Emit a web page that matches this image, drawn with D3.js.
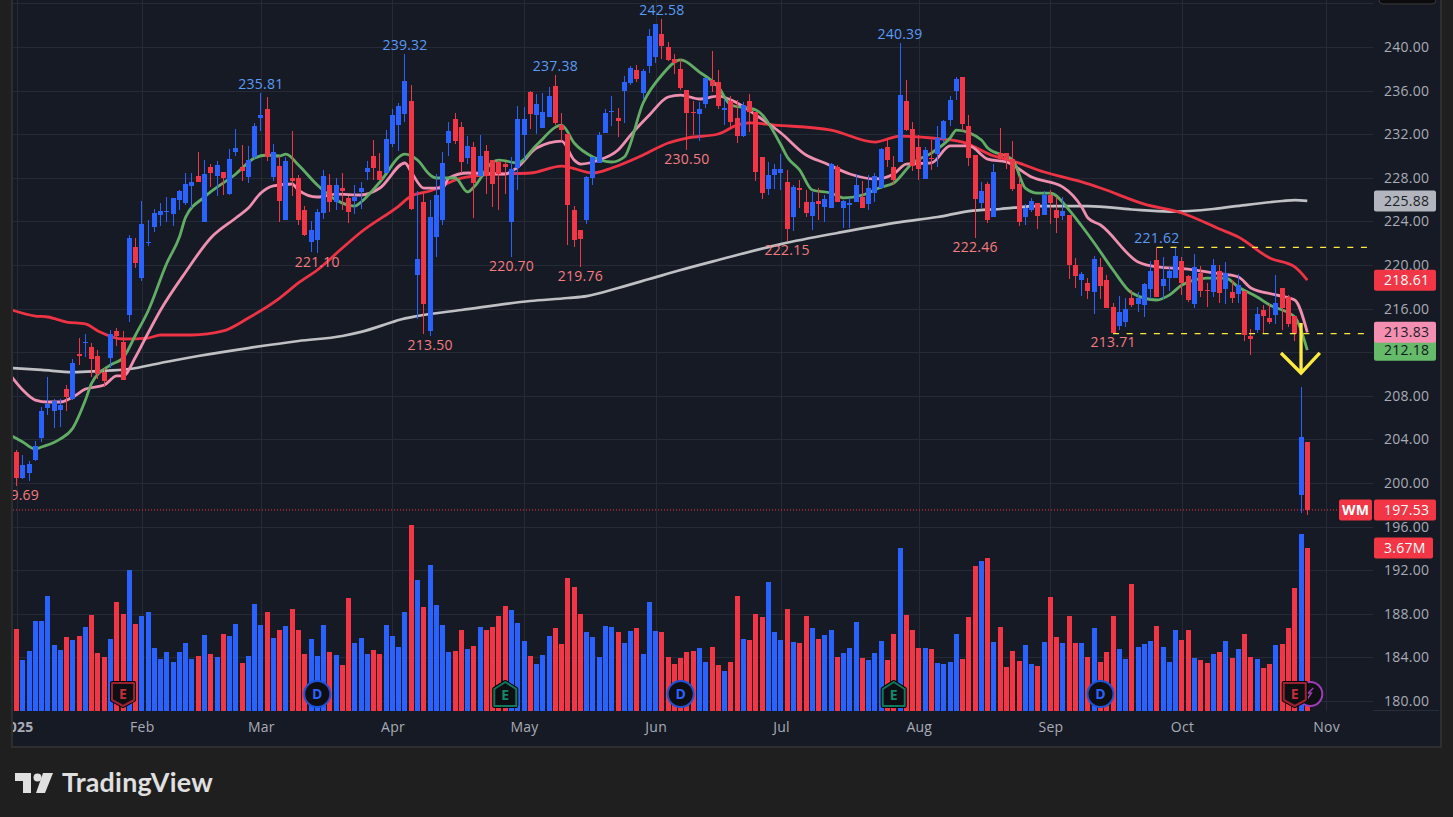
<!DOCTYPE html>
<html>
<head>
<meta charset="utf-8">
<title>WM</title>
<script src="https://cdnjs.cloudflare.com/ajax/libs/d3/7.8.5/d3.min.js"></script>
<style>
    html, body { margin: 0; padding: 0; background: #1f1f1f; overflow: hidden; }
    svg { display: block; }
    text { font-family: "Open Sans", sans-serif; font-size: 14px; letter-spacing: 0.25px; }
</style>
</head>
<body>
<div id="chart"></div>
<script>
    // price bars, index 0 is the first session of 2025
    var highs = [
        203.03,202.57,202.02,203.85,206.97,209.73,207.70,207.70,208.99,211.37,
        213.30,213.67,212.84,212.20,210.55,214.04,214.22,213.95,222.75,222.48,
        225.87,224.13,225.14,225.69,226.24,226.15,226.88,228.44,228.44,230.37,
        229.63,229.26,229.54,228.53,230.64,232.47,231.01,230.92,233.03,235.78,
        235.41,231.10,230.00,229.91,232.29,228.26,225.41,224.04,225.14,228.71,
        228.35,227.98,228.44,226.33,227.34,227.62,229.54,231.47,230.27,232.38,
        234.31,234.86,239.36,236.51,226.79,226.70,225.96,228.35,230.37,233.12,
        233.95,233.12,231.83,231.28,231.92,231.01,229.63,229.63,229.45,229.91,
        234.59,234.50,235.96,235.69,235.78,236.33,237.43,233.95,232.11,225.41,
        223.21,228.16,229.91,232.20,234.31,235.50,234.40,237.34,238.26,238.35,
        237.98,241.65,242.11,242.57,240.46,239.36,238.90,236.05,235.04,234.95,
        237.15,239.63,237.89,235.23,235.50,235.14,234.95,235.69,234.04,229.91,
        229.45,229.26,230.18,228.71,227.34,227.80,226.88,226.70,227.06,226.42,
        229.36,229.17,225.96,226.15,228.35,227.71,228.26,228.44,230.73,231.47,
        230.00,240.36,236.97,233.12,231.92,230.82,231.47,232.75,233.30,235.50,
        237.25,237.25,233.76,230.09,227.62,227.62,229.26,232.57,230.27,231.37,
        228.16,225.59,226.15,225.69,226.79,226.88,226.24,226.24,224.59,220.64,
        219.36,218.81,220.82,220.64,219.08,216.51,217.15,216.97,217.71,217.52,
        218.35,220.37,221.65,220.73,219.82,221.56,220.73,219.08,221.01,219.91,
        218.35,220.55,220.00,220.27,218.62,219.17,217.61,214.13,216.15,216.33,
        216.42,219.08,217.89,217.25,215.32,208.81,203.76
    ];
    var bodyTops = [
        202.84,201.65,201.74,203.39,206.61,207.24,207.52,207.15,208.62,211.01,
        211.83,212.93,212.48,211.65,210.18,213.67,213.95,212.93,222.48,221.65,
        223.76,222.11,224.77,224.95,224.95,226.15,226.79,227.43,227.62,228.16,
        228.35,228.99,229.17,228.53,229.72,230.73,228.99,229.63,232.75,233.76,
        234.31,230.37,229.08,229.54,227.98,227.98,225.04,223.21,224.86,228.16,
        227.34,227.34,227.06,226.15,226.24,227.06,228.90,230.00,228.62,231.56,
        233.76,234.59,236.88,235.04,220.55,225.78,224.40,226.42,229.36,232.29,
        233.39,232.66,230.92,230.82,230.00,230.46,229.63,229.45,229.26,228.81,
        233.39,233.39,235.87,234.77,234.04,235.50,236.42,232.84,232.02,225.04,
        223.21,228.07,229.91,231.92,233.95,234.13,233.48,236.79,238.07,237.89,
        237.80,241.01,242.11,241.19,240.00,238.90,237.98,236.05,234.04,234.31,
        237.15,236.97,236.79,234.40,235.04,233.48,234.68,235.04,234.04,229.91,
        228.26,228.81,228.81,227.62,227.15,227.06,225.78,225.78,225.87,226.05,
        229.26,228.99,225.87,225.69,227.34,226.24,227.06,228.16,230.64,230.82,
        228.99,235.59,235.04,232.47,230.82,230.55,229.82,231.65,233.21,235.14,
        237.06,237.25,232.75,230.09,226.79,227.43,228.53,230.27,230.27,229.72,
        227.43,225.23,225.87,225.69,226.42,226.42,225.04,224.95,224.59,220.00,
        219.17,218.35,220.55,219.82,218.62,216.15,215.69,215.96,216.97,216.97,
        218.25,219.45,220.46,218.71,219.45,220.82,220.37,218.99,219.82,219.27,
        217.71,220.00,219.45,219.27,217.52,218.16,217.61,213.49,215.50,215.87,
        215.14,216.51,217.89,217.06,215.32,204.22,203.76
    ];
    var bodyBottoms = [
        200.46,200.46,200.92,202.11,204.13,206.88,206.61,206.70,207.89,207.70,
        211.65,212.84,211.37,210.00,209.36,211.47,213.49,209.45,215.41,220.18,
        218.80,222.02,223.49,224.59,224.86,224.68,225.96,225.69,227.25,227.62,
        223.94,228.44,228.16,227.98,226.51,230.37,228.62,228.07,229.91,233.48,
        229.91,228.07,225.87,224.13,227.71,224.13,222.75,222.11,222.29,224.77,
        225.78,225.78,226.79,224.86,225.87,226.70,228.53,228.90,227.80,228.44,
        231.10,232.84,233.85,225.14,219.08,216.42,213.95,222.57,224.13,231.19,
        231.37,229.45,229.82,227.52,228.16,228.26,227.43,228.35,228.99,223.94,
        228.90,231.92,233.85,233.76,232.57,233.58,233.03,232.38,225.50,222.29,
        222.38,224.13,227.98,229.36,232.11,234.04,233.21,235.96,236.70,237.06,
        235.78,238.26,239.08,240.09,238.81,238.53,236.24,233.95,233.95,233.85,
        234.77,236.42,234.59,234.22,233.12,231.83,231.83,234.04,228.53,226.60,
        226.97,228.26,228.44,223.30,224.40,226.88,224.77,224.49,225.59,225.32,
        225.23,225.78,225.23,225.50,225.78,225.23,225.59,226.60,227.06,229.63,
        227.80,229.45,232.38,229.08,228.81,227.89,229.72,230.18,231.56,233.30,
        235.96,232.93,229.82,226.05,225.69,224.13,224.40,229.72,229.63,226.97,
        223.94,224.40,225.04,224.49,224.59,225.69,224.31,224.49,220.00,218.99,
        218.62,217.61,217.52,218.07,216.05,213.76,214.40,214.77,216.33,216.42,
        216.33,217.80,217.06,218.07,218.80,218.80,218.35,216.79,216.42,217.61,
        217.61,217.52,217.43,217.80,216.97,217.34,213.58,213.21,214.04,215.32,
        214.77,215.41,216.05,214.59,213.67,198.90,197.52
    ];
    var lows = [
        199.72,200.36,200.18,202.02,203.76,206.24,205.05,205.14,206.61,207.61,
        210.83,211.56,209.73,209.54,208.81,210.55,212.57,209.45,214.77,219.72,
        218.53,221.74,223.03,223.58,223.94,223.58,225.04,225.50,225.23,227.62,
        223.94,227.15,226.33,226.42,226.42,230.00,227.71,227.52,229.72,232.29,
        229.54,227.71,223.94,224.13,226.33,223.67,222.66,221.19,221.10,224.22,
        224.86,225.04,225.04,223.85,224.68,225.14,227.80,227.80,227.80,228.44,
        230.82,230.46,233.12,225.04,215.05,213.67,213.49,220.73,223.67,230.00,
        231.10,228.44,229.26,224.31,228.07,226.51,225.32,225.04,226.51,220.73,
        226.88,229.63,232.47,232.02,232.57,233.58,232.84,231.37,221.83,221.65,
        219.82,223.76,227.34,229.36,232.11,232.75,231.74,233.03,236.51,236.79,
        235.23,237.61,238.53,238.90,238.71,237.52,236.05,230.55,231.92,231.37,
        234.40,235.87,234.31,232.84,232.66,231.19,231.74,232.20,227.71,226.05,
        226.42,226.97,226.88,222.20,223.12,225.23,224.40,223.21,224.13,223.94,
        225.23,225.78,223.39,223.39,225.78,225.23,225.04,225.78,226.97,228.99,
        227.34,229.45,232.29,228.62,227.80,227.89,228.71,228.99,231.19,232.75,
        235.14,232.29,229.08,222.48,225.23,223.85,224.40,229.63,228.81,226.79,
        223.58,223.67,224.86,223.30,224.59,223.76,222.94,224.13,218.71,217.89,
        217.15,216.88,215.50,216.88,216.05,213.76,214.04,214.31,216.15,215.69,
        215.23,216.88,217.06,216.88,217.61,218.80,217.25,216.60,216.05,217.06,
        216.15,217.06,216.51,216.42,216.51,216.51,213.03,211.74,213.76,213.67,
        214.59,214.59,214.04,214.31,213.03,197.25,197.06
    ];
    // u = closed up (blue), d = closed down (red), one letter per bar
    var directions = "duuuuuuudu" + "duddduddud" + "uuuuuuuuud" + "ududuuduuu" + "dududdduuu" +
        "dudduuuddu" + "uuududuuuu" + "ddududdddu" + "uuduuudddd" + "duuuuuduud" +
        "uuuddddddu" + "uddudduddd" + "uuududdudu" + "uduuuduuud" + "duddduduuu" +
        "udddududdd" + "duududdudd" + "ududdduudu" + "uuduuuddud" + "dudududdud" + "dudddud";
    // volume in millions of shares
    var volumes = [
        1.85,1.15,1.35,2.03,2.03,2.59,1.49,1.37,1.67,1.60,
        1.69,1.89,2.16,1.31,1.22,1.62,2.45,2.18,3.18,1.96,
        2.14,2.23,1.42,1.17,1.33,1.10,1.33,1.53,1.17,1.24,
        1.71,1.28,1.22,1.73,1.69,1.96,1.08,1.24,2.41,1.94,
        2.23,1.64,1.82,1.91,2.30,1.82,1.28,1.62,1.24,1.94,
        1.33,1.26,1.04,2.55,1.53,1.64,1.28,1.37,1.28,1.94,
        1.69,1.44,2.23,4.19,2.95,2.34,3.29,2.39,1.94,1.33,
        1.35,1.82,1.40,1.46,1.89,1.82,1.89,2.14,2.36,2.27,
        1.98,1.58,1.24,1.06,1.26,1.69,1.87,1.51,3.00,2.79,
        2.18,1.78,1.67,1.22,1.91,1.89,1.78,1.53,1.80,1.87,
        1.28,2.45,1.80,1.78,1.22,1.06,1.19,1.33,1.35,1.42,
        1.10,1.44,1.04,0.90,1.10,2.59,1.62,1.60,2.18,2.12,
        2.91,1.78,1.60,2.30,1.55,1.53,2.14,1.87,1.62,1.71,
        1.82,1.22,1.31,1.42,2.00,1.19,1.15,1.31,1.58,1.15,
        1.73,3.67,2.16,1.82,1.42,1.42,1.40,1.08,1.06,1.10,
        1.73,1.17,2.12,3.27,3.38,3.45,1.55,1.89,0.99,1.35,
        1.13,1.49,1.06,1.01,1.55,2.57,1.67,1.53,2.14,1.53,
        1.53,1.22,1.87,1.10,1.33,2.14,1.40,1.17,2.86,1.44,
        1.51,1.58,1.91,1.44,1.10,1.82,1.60,1.82,1.19,1.15,
        1.08,1.28,1.33,1.58,1.19,1.40,1.73,1.22,1.17,0.97,
        1.06,1.49,1.51,1.87,2.77,3.99,3.67
    ];

    // moving averages, read at the bends of each line
    var greenBars = [-1,1,3,4,7,9,11,12,15,17,19,21,24,26,27,30,35,38,40,42,43,45,48,51,54,55,58,62,64,66,67,70,72,73,76,77,80,83,87,89,92,95,97,100,103,106,109,112,114,118,122,123,125,127,130,132,135,138,140,143,146,149,150,154,155,159,161,163,165,168,170,172,175,178,182,184,186,190,193,195,198,200,204,206];
    var greenVals = [204.40,203.76,203.12,203.30,204.04,205.05,207.61,209.17,210.83,211.47,213.58,215.78,220.18,222.57,224.40,226.24,228.35,229.82,230.09,230.00,230.18,229.17,227.34,225.96,225.41,225.78,227.62,230.18,229.63,228.26,227.98,227.98,226.70,227.15,229.45,229.63,229.36,231.01,232.84,231.19,229.91,229.45,229.91,234.86,237.43,238.81,237.70,236.33,234.68,234.22,231.01,229.91,228.71,226.88,226.60,226.15,226.42,227.15,227.52,229.36,230.27,231.65,232.38,231.47,230.73,229.63,227.06,226.60,226.60,225.04,223.58,222.02,219.54,217.43,216.79,217.25,218.16,218.80,218.80,217.98,217.06,216.33,215.23,212.18];
    var pinkBars = [-1,1,3,5,7,9,11,14,16,17,19,21,23,27,31,35,37,39,41,44,45,48,51,55,58,62,63,65,68,69,72,78,80,83,87,89,90,93,96,98,101,104,106,109,112,115,118,122,126,129,133,137,140,142,146,149,152,155,158,162,167,170,171,173,179,182,187,191,195,197,201,204,206];
    var pinkVals = [209.91,208.53,207.61,207.43,207.43,207.89,208.62,208.99,209.82,209.82,211.56,213.76,215.87,219.36,222.48,224.31,225.23,226.60,227.25,227.43,226.88,226.24,226.51,226.42,227.06,229.36,228.53,227.06,227.06,227.98,228.44,228.35,228.99,230.73,231.37,229.63,229.26,229.63,230.55,231.92,233.76,235.41,235.59,235.23,235.50,234.86,233.76,232.11,230.09,229.36,228.35,227.89,228.35,229.26,229.36,230.92,230.92,229.72,229.45,228.07,227.15,225.32,224.31,223.67,220.27,219.82,219.63,219.27,218.90,217.89,217.25,216.79,213.83];
    var redBars = [-1,3,5,8,11,13,17,21,23,28,33,37,42,45,48,52,55,61,63,66,71,77,82,87,92,95,100,104,107,112,115,117,121,130,137,141,146,151,156,159,164,170,173,180,186,192,195,200,204,206];
    var redVals = [215.92,215.32,215.23,214.77,214.59,213.95,213.21,213.30,213.58,213.58,213.95,215.14,216.97,218.35,219.54,221.56,223.03,225.41,226.33,226.79,227.98,228.35,228.44,229.08,228.44,228.90,230.09,231.19,231.65,232.02,232.84,233.03,232.84,232.38,231.28,231.83,231.65,231.28,230.00,229.54,228.53,227.62,227.06,225.59,224.77,223.30,222.57,220.64,219.82,218.61];
    var whiteBars = [-1,4,9,13,18,23,29,37,45,52,55,60,61,64,71,82,88,91,96,101,106,112,122,131,141,147,152,157,163,171,178,184,191,196,202,204,206];
    var whiteVals = [210.55,210.37,210.18,210.27,210.46,211.01,211.65,212.38,213.03,213.49,213.86,214.77,214.95,215.32,215.87,216.70,216.97,217.15,217.89,218.71,219.54,220.46,221.92,222.94,223.94,224.40,224.95,225.14,225.41,225.41,225.09,224.90,225.14,225.50,225.87,225.96,225.88];

    // swing labels on the price pane
    var swingHighBars = [39, 62, 86, 103, 141, 182];
    var swingHighVals = [235.81, 239.32, 237.38, 242.58, 240.39, 221.62];
    var swingLowBars = [0, 48, 66, 79, 90, 107, 123, 153, 175];
    var swingLowVals = [199.69, 221.10, 213.50, 220.70, 219.76, 230.50, 222.15, 222.46, 213.71];

    var priceTicks = [240, 236, 232, 228, 224, 220, 216, 212, 208, 204, 200, 196, 192, 188, 184, 180];
    var gridPrices = [244].concat(priceTicks);
    var monthBars = [0, 20, 39, 60, 81, 102, 122, 144, 165, 186, 209];
    var monthLabels = ["2025", "Feb", "Mar", "Apr", "May", "Jun", "Jul", "Aug", "Sep", "Oct", "Nov"];

    var width = 1453, height = 817;
    var plotLeft = 13, plotRight = 1373, axisRight = 1440, volumeBase = 711, chartBottom = 745;
    var upColor = "#2962FF", downColor = "#F23645";

    var x = d3.scaleLinear().domain([0, 206]).range([16.5, 1307.3]);
    var y = d3.scaleLinear().domain([240, 180]).range([47, 701]);
    var yVolume = d3.scaleLinear().domain([0, 4]).range([volumeBase, volumeBase - 177.6]);

    var svg = d3.select("#chart").append("svg").attr("width", width).attr("height", height);

    function barColor(i) {
        return directions[i] === "u" ? upColor : downColor;
    }

    svg.append("rect").attr("x", plotLeft - 1).attr("y", -2)
        .attr("width", axisRight - plotLeft + 2).attr("height", chartBottom + 4)
        .attr("fill", "#161A25").attr("stroke", "#2e2e2e").attr("stroke-width", 2);

    svg.append("clipPath").attr("id", "plot").append("rect")
        .attr("x", plotLeft).attr("y", 0)
        .attr("width", plotRight - plotLeft).attr("height", chartBottom);

    // grid
    svg.append("g").selectAll("line").data(gridPrices).enter().append("line")
        .attr("x1", plotLeft).attr("x2", plotRight)
        .attr("y1", function(d) { return Math.round(y(d)) + 0.5; })
        .attr("y2", function(d) { return Math.round(y(d)) + 0.5; })
        .attr("stroke", "#262A36");
    svg.append("g").selectAll("line").data(monthBars).enter().append("line")
        .attr("x1", function(d) { return Math.round(x(d)) + 0.5; })
        .attr("x2", function(d) { return Math.round(x(d)) + 0.5; })
        .attr("y1", 0).attr("y2", volumeBase)
        .attr("stroke", "#262A36");
    svg.append("line").attr("x1", plotRight).attr("x2", axisRight - 1)
        .attr("y1", volumeBase - 0.5).attr("y2", volumeBase - 0.5).attr("stroke", "#2A2E39");

    var plot = svg.append("g").attr("clip-path", "url(#plot)");

    // volume
    plot.append("g").selectAll("rect").data(volumes).enter().append("rect")
        .attr("x", function(d, i) { return Math.round(x(i) - 2.5); })
        .attr("width", 5)
        .attr("y", function(d) { return yVolume(d); })
        .attr("height", function(d) { return volumeBase - yVolume(d); })
        .attr("fill", function(d, i) { return barColor(i); })
        .attr("shape-rendering", "crispEdges");

    // moving averages
    function drawAverage(bars, vals, color, lineWidth) {
        var line = d3.line()
            .x(function(d) { return x(d); })
            .y(function(d, i) { return y(vals[i]); })
            .curve(d3.curveMonotoneX);
        plot.append("path").attr("d", line(bars))
            .attr("fill", "none").attr("stroke", color).attr("stroke-width", lineWidth);
    }
    drawAverage(whiteBars, whiteVals, "#BFC0C4", 2.7);
    drawAverage(redBars, redVals, "#EE3344", 2.8);
    drawAverage(pinkBars, pinkVals, "#EE8FB0", 2.8);
    drawAverage(greenBars, greenVals, "#62AD66", 2.8);

    // candles
    var candles = plot.append("g").selectAll("g").data(highs).enter().append("g");
    candles.append("rect")
        .attr("x", function(d, i) { return Math.round(x(i) - 2.5) + 2; })
        .attr("width", 1)
        .attr("y", function(d) { return y(d); })
        .attr("height", function(d, i) { return y(lows[i]) - y(d); })
        .attr("fill", function(d, i) { return barColor(i); })
        .attr("shape-rendering", "crispEdges");
    candles.append("rect")
        .attr("x", function(d, i) { return Math.round(x(i) - 2.5); })
        .attr("width", 5)
        .attr("y", function(d, i) { return y(bodyTops[i]); })
        .attr("height", function(d, i) { return Math.max(1, y(bodyBottoms[i]) - y(bodyTops[i])); })
        .attr("fill", function(d, i) { return barColor(i); })
        .attr("shape-rendering", "crispEdges");

    // last price line
    svg.append("line").attr("x1", plotLeft).attr("x2", 1339)
        .attr("y1", y(197.53)).attr("y2", y(197.53))
        .attr("stroke", downColor).attr("stroke-dasharray", "1,2");

    // range lines from the swing high and low
    function rangeLine(bar, price) {
        svg.append("line").attr("x1", x(bar)).attr("x2", 1370)
            .attr("y1", y(price)).attr("y2", y(price))
            .attr("stroke", "#FFEB3B").attr("stroke-width", 1.3)
            .attr("stroke-dasharray", "6,7.6");
    }
    rangeLine(182, 221.62);
    rangeLine(175, 213.71);

    // arrow
    var arrowLine = d3.line()
        .x(function(d) { return x(d[0]); })
        .y(function(d) { return y(d[1]); });
    svg.append("path")
        .attr("d", arrowLine([[205, 214.68], [205, 210.09]]) + arrowLine([[201.8, 211.93], [205, 210.09], [208, 211.93]]))
        .attr("fill", "none").attr("stroke", "#FFEB3B").attr("stroke-width", 3.3);

    // swing labels
    plot.append("g").selectAll("text").data(swingHighBars).enter().append("text")
        .attr("x", function(d) { return x(d); })
        .attr("y", function(d, i) { return y(highs[d]) - 4; })
        .attr("text-anchor", "middle").attr("fill", "#5B9CF6")
        .text(function(d, i) { return swingHighVals[i].toFixed(2); });
    plot.append("g").selectAll("text").data(swingLowBars).enter().append("text")
        .attr("x", function(d) { return x(d); })
        .attr("y", function(d, i) { return y(lows[d]) + 14; })
        .attr("text-anchor", "middle").attr("fill", "#F77C80")
        .text(function(d, i) { return swingLowVals[i].toFixed(2); });

    // markers in the volume pane
    var markerY = 694;
    function marker(bar) {
        return svg.append("g").attr("transform", "translate(" + x(bar) + "," + markerY + ")");
    }
    function markerLetter(g, letter, color, dy) {
        g.append("text").attr("y", dy).attr("text-anchor", "middle")
            .attr("fill", color).attr("font-weight", 700).style("font-size", "14px").text(letter);
    }
    function dividendMarker(bar) {
        var g = marker(bar);
        g.append("circle").attr("r", 13).attr("fill", "#0E0F13").attr("stroke", "#1E53D8").attr("stroke-width", 2);
        markerLetter(g, "D", "#2962FF", 5);
    }
    function earningsMarker(bar, color, letterColor, path, dy) {
        var g = marker(bar);
        g.append("path").attr("d", path).attr("fill", "#0E0F13")
            .attr("stroke", "#000").attr("stroke-width", 4).attr("stroke-linejoin", "round");
        g.append("path").attr("d", path).attr("fill", "#0E0F13")
            .attr("stroke", color).attr("stroke-width", 2).attr("stroke-linejoin", "round");
        markerLetter(g, "E", letterColor, dy);
    }
    var shieldDown = "M-11,-11 H11 V6 L0,12 L-11,6 Z";
    var houseUp = "M0,-12 L11,-5 V12 H-11 V-5 Z";

    dividendMarker(48);
    dividendMarker(106);
    dividendMarker(173);
    earningsMarker(17, "#9C2230", "#C62D3A", shieldDown, 5);
    earningsMarker(78, "#0D7A5F", "#11896B", houseUp, 6);
    earningsMarker(140, "#0D7A5F", "#11896B", houseUp, 6);

    var splitGroup = marker(206);
    splitGroup.attr("transform", "translate(" + (x(206) + 3) + "," + markerY + ")");
    splitGroup.append("circle").attr("r", 12).attr("fill", "#0E0F13").attr("stroke", "#9C3DB5").attr("stroke-width", 2);
    splitGroup.append("path").attr("d", "M3,-6 L-2,-1 H1 L-3,5").attr("fill", "none").attr("stroke", "#9C3DB5").attr("stroke-width", 1.5);
    earningsMarker(204, "#9C2230", "#C62D3A", shieldDown, 5);

    // axes
    var priceAxis = d3.axisRight(y).tickValues(priceTicks).tickSize(0).tickPadding(11)
        .tickFormat(d3.format(".2f"));
    var priceAxisG = svg.append("g").attr("transform", "translate(" + plotRight + ",0)").call(priceAxis);
    priceAxisG.select(".domain").remove();
    priceAxisG.selectAll("text").attr("fill", "#A9ACB5").style("font-size", "14px");

    var timeAxis = d3.axisBottom(x).tickValues(monthBars).tickSize(0).tickPadding(11)
        .tickFormat(function(d, i) { return monthLabels[i]; });
    var timeAxisG = svg.append("g").attr("clip-path", "url(#plot)")
        .append("g").attr("transform", "translate(0," + volumeBase + ")").call(timeAxis);
    timeAxisG.select(".domain").remove();
    timeAxisG.selectAll("text").attr("fill", "#A9ACB5").style("font-size", "14px")
        .attr("font-weight", function(d, i) { return i === 0 ? 700 : 400; });

    // tags on the price axis
    function priceTag(text, value, fill, color, tagWidth) {
        var top = value - 10.5;
        svg.append("rect").attr("x", 1374).attr("y", top).attr("width", tagWidth).attr("height", 21)
            .attr("rx", 2).attr("fill", fill);
        svg.append("text").attr("x", 1384).attr("y", top + 15.5).attr("fill", color).text(text);
    }
    priceTag("225.88", y(225.88), "#B2B5BE", "#1b1e27", 62);
    priceTag("218.61", y(218.61), "#F23645", "#ffffff", 62);
    priceTag("212.18", y(212.18), "#66BB6A", "#12161c", 62);
    priceTag("213.83", y(213.83), "#F48FB1", "#1b1e27", 62);
    priceTag("197.53", y(197.53), "#F23645", "#ffffff", 62);
    priceTag("3.67M", yVolume(3.67), "#F23645", "#ffffff", 59);

    svg.append("rect").attr("x", 1339).attr("y", y(197.53) - 10.5).attr("width", 33).attr("height", 21)
        .attr("rx", 2).attr("fill", "#F23645");
    svg.append("text").attr("x", 1355.5).attr("y", y(197.53) + 5)
        .attr("text-anchor", "middle").attr("fill", "#fff").attr("font-weight", 700).text("WM");

    // small button cut by the top edge
    svg.append("rect").attr("x", 1379).attr("y", -8).attr("width", 57).attr("height", 12).attr("rx", 4)
        .attr("fill", "#0c0c0e").attr("stroke", "#3a3a3a");

    // logo
    var logo = svg.append("g").attr("fill", "#E0E0E0");
    logo.append("path").attr("d", "M15,773 H31 V793 H23 V781 H15 Z");
    logo.append("circle").attr("cx", 37.5).attr("cy", 777.5).attr("r", 4);
    logo.append("path").attr("d", "M43,773 H53 L45,793 H36 Z");
    logo.append("text").attr("x", 62).attr("y", 792).attr("textLength", 151)
        .attr("lengthAdjust", "spacingAndGlyphs")
        .style("font-family", "Lato, sans-serif").style("font-size", "26px").style("font-weight", 700)
        .text("TradingView");
</script>
</body>
</html>
